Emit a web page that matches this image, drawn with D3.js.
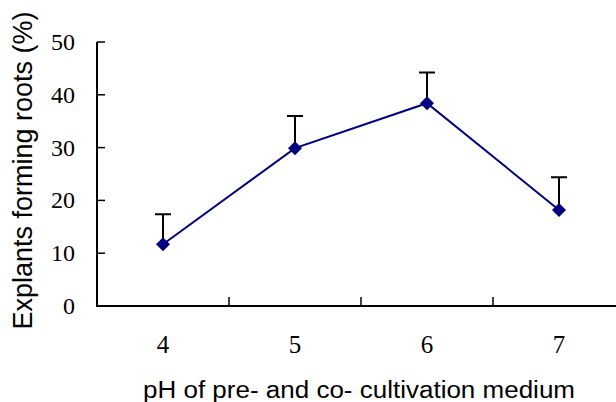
<!DOCTYPE html>
<html>
<head>
<meta charset="utf-8">
<script src="https://cdn.jsdelivr.net/npm/d3@7"></script>
<style>
  body { margin: 0; background: #fff; }
  svg { display: block; }
</style>
</head>
<body>
<script>
// data
const phLevels = ["4", "5", "6", "7"];
const rootingPct = [11.7, 29.9, 38.4, 18.2];
const errorUp = [5.7, 6.1, 5.8, 6.2];
const yTicks = [0, 10, 20, 30, 40, 50];

const width = 616, height = 402;

const svg = d3.select("body").append("svg")
    .attr("width", width)
    .attr("height", height);

// scales
const x = d3.scaleBand()
    .domain(phLevels)
    .range([97, 625]);

const y = d3.scaleLinear()
    .domain([0, 50])
    .range([306, 42]);

// x axis: ticks between categories, pointing up
const xAxis = svg.append("g").attr("transform", "translate(0,306)");
xAxis.append("line")
    .attr("x1", 96).attr("x2", width)
    .attr("stroke", "#000").attr("stroke-width", 2);
xAxis.selectAll(".xt")
    .data(phLevels.slice(1))
    .enter().append("line")
    .attr("x1", d => x(d)).attr("x2", d => x(d))
    .attr("y1", 0).attr("y2", -9)
    .attr("stroke", "#000").attr("stroke-width", 1.5);
xAxis.selectAll(".xl")
    .data(phLevels)
    .enter().append("text")
    .attr("x", d => x(d) + x.bandwidth() / 2)
    .attr("y", 46.5)
    .attr("text-anchor", "middle")
    .style("font-family", "'Liberation Serif', 'Times New Roman', serif")
    .style("font-size", "25px")
    .text(d => d);

// y axis: ticks pointing right
const yAxis = svg.append("g").attr("transform", "translate(97,0)");
yAxis.append("line")
    .attr("y1", y(50)).attr("y2", y(0) + 1)
    .attr("stroke", "#000").attr("stroke-width", 2);
yAxis.selectAll(".yt")
    .data(yTicks)
    .enter().append("line")
    .attr("x1", 0).attr("x2", 8)
    .attr("y1", d => y(d)).attr("y2", d => y(d))
    .attr("stroke", "#000").attr("stroke-width", 1.5);
yAxis.selectAll(".yl")
    .data(yTicks)
    .enter().append("text")
    .attr("x", -22)
    .attr("y", d => y(d))
    .attr("dy", "0.33em")
    .attr("text-anchor", "end")
    .style("font-family", "'Liberation Serif', 'Times New Roman', serif")
    .style("font-size", "24px")
    .text(d => d);

// axis titles
svg.append("text")
    .attr("x", 143)
    .attr("y", 398)
    .attr("textLength", 432)
    .attr("lengthAdjust", "spacingAndGlyphs")
    .style("font-family", "'Liberation Sans', Arial, sans-serif")
    .style("font-size", "23px")
    .text("pH of pre- and co- cultivation medium");

svg.append("text")
    .attr("transform", "translate(32,170.5) rotate(-90)")
    .attr("text-anchor", "middle")
    .style("font-family", "'Liberation Sans', Arial, sans-serif")
    .style("font-size", "27px")
    .text("Explants forming roots (%)");

const pts = phLevels.map((p, i) => ({ p: p, v: rootingPct[i], e: errorUp[i] }));
const cx = d => x(d.p) + x.bandwidth() / 2;

// error bars (upper only)
svg.selectAll(".err")
    .data(pts)
    .enter().append("path")
    .attr("d", d => "M" + cx(d) + "," + y(d.v) + "V" + y(d.v + d.e) +
        "M" + (cx(d) - 8) + "," + y(d.v + d.e) + "H" + (cx(d) + 8))
    .attr("fill", "none")
    .attr("stroke", "#000")
    .attr("stroke-width", 2);

// line
svg.append("path")
    .datum(pts)
    .attr("fill", "none")
    .attr("stroke", "#000080")
    .attr("stroke-width", 2)
    .attr("d", d3.line().x(cx).y(d => y(d.v)));

// diamond markers
svg.selectAll(".pt")
    .data(pts)
    .enter().append("path")
    .attr("transform", d => "translate(" + cx(d) + "," + y(d.v) + ")")
    .attr("d", "M0,-7L7,0L0,7L-7,0Z")
    .attr("fill", "#000080");
</script>
</body>
</html>
